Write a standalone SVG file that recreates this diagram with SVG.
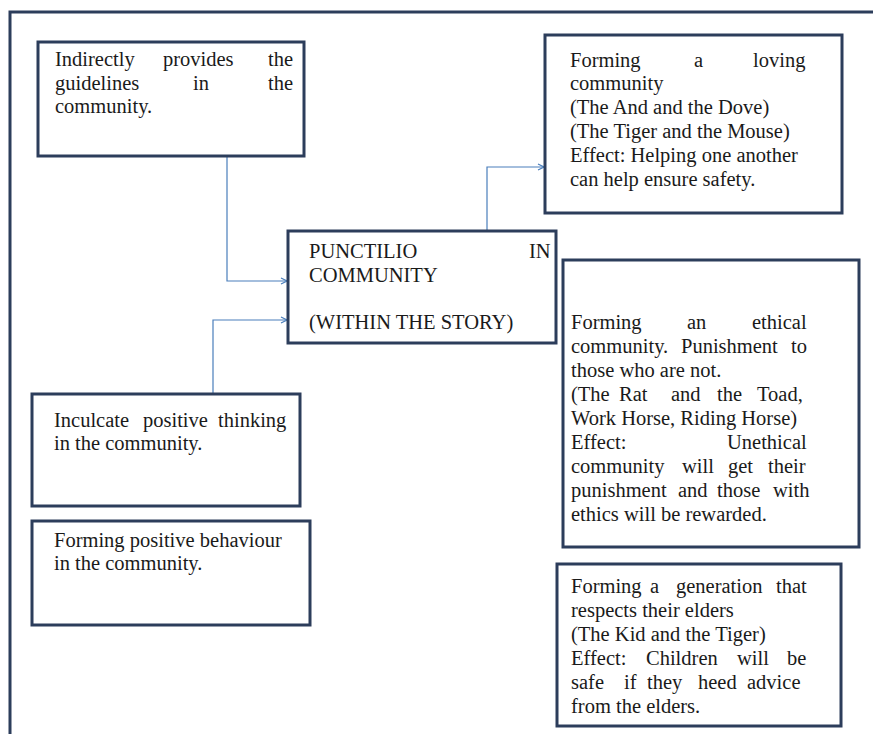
<svg xmlns="http://www.w3.org/2000/svg" width="873" height="734" viewBox="0 0 873 734">
<style>
.box{fill:#ffffff;stroke:#2c3d5b;stroke-width:3}
.frame{fill:none;stroke:#2c3d5b;stroke-width:3}
.t{font-family:"Liberation Serif","Times New Roman",serif;font-size:20.5px;fill:#1a1a1a}
.c{fill:none;stroke:#4a7ebb;stroke-width:1.2}
</style>
<defs>
<marker id="arr" markerWidth="8" markerHeight="8" refX="7" refY="4" orient="auto" markerUnits="userSpaceOnUse">
<path d="M1,1 L7,4 L1,7" fill="none" stroke="#4a7ebb" stroke-width="1.2"/>
</marker>
</defs>
<rect width="873" height="734" fill="#ffffff"/>
<rect class="frame" x="10" y="12" width="890" height="760"/>

<g id="connectors">
<path class="c" d="M227,157 V281 H287" marker-end="url(#arr)"/>
<path class="c" d="M213,394 V320 H287" marker-end="url(#arr)"/>
<path class="c" d="M487,231 V167 H544" marker-end="url(#arr)"/>
</g>

<g id="n_guidelines">
<rect class="box" x="38" y="42" width="266" height="114"/>
<text class="t" y="66"><tspan x="55">Indirectly</tspan><tspan x="163">provides</tspan><tspan x="268">the</tspan></text>
<text class="t" y="89.5"><tspan x="55">guidelines</tspan><tspan x="193">in</tspan><tspan x="268">the</tspan></text>
<text class="t" x="55" y="113">community.</text>
</g>

<g id="n_loving">
<rect class="box" x="545" y="35" width="297" height="178"/>
<text class="t" y="66.5"><tspan x="570">Forming</tspan><tspan x="694">a</tspan><tspan x="753">loving</tspan></text>
<text class="t" x="570" y="90">community</text>
<text class="t" x="570" y="114">(The And and the Dove)</text>
<text class="t" x="570" y="138">(The Tiger and the Mouse)</text>
<text class="t" x="570" y="162">Effect: Helping one another</text>
<text class="t" x="570" y="185.5">can help ensure safety.</text>
</g>

<g id="n_center">
<rect class="box" x="288" y="231" width="268" height="112"/>
<text class="t" y="258"><tspan x="309">PUNCTILIO</tspan><tspan x="529">IN</tspan></text>
<text class="t" x="309" y="281.5">COMMUNITY</text>
<text class="t" x="309" y="329">(WITHIN THE STORY)</text>
</g>

<g id="n_inculcate">
<rect class="box" x="32" y="394" width="268" height="112"/>
<text class="t" y="426.5"><tspan x="54">Inculcate</tspan><tspan x="143">positive</tspan><tspan x="218">thinking</tspan></text>
<text class="t" x="54" y="450">in the community.</text>
</g>

<g id="n_behaviour">
<rect class="box" x="32" y="521" width="278" height="104"/>
<text class="t" x="54" y="546.5">Forming positive behaviour</text>
<text class="t" x="54" y="570">in the community.</text>
</g>

<g id="n_ethical">
<rect class="box" x="563" y="260" width="296" height="287"/>
<text class="t" y="329"><tspan x="571">Forming</tspan><tspan x="687">an</tspan><tspan x="752">ethical</tspan></text>
<text class="t" y="353"><tspan x="571">community.</tspan><tspan x="681">Punishment</tspan><tspan x="791">to</tspan></text>
<text class="t" x="571" y="377">those who are not.</text>
<text class="t" y="401"><tspan x="571">(The</tspan><tspan x="619">Rat</tspan><tspan x="671">and</tspan><tspan x="717">the</tspan><tspan x="757">Toad,</tspan></text>
<text class="t" x="571" y="425">Work Horse, Riding Horse)</text>
<text class="t" y="449"><tspan x="571">Effect:</tspan><tspan x="727">Unethical</tspan></text>
<text class="t" y="473"><tspan x="571">community</tspan><tspan x="682">will</tspan><tspan x="728">get</tspan><tspan x="768">their</tspan></text>
<text class="t" y="497"><tspan x="571">punishment</tspan><tspan x="678">and</tspan><tspan x="717">those</tspan><tspan x="773">with</tspan></text>
<text class="t" x="571" y="521">ethics will be rewarded.</text>
</g>

<g id="n_elders">
<rect class="box" x="557" y="564" width="284" height="162"/>
<text class="t" y="593"><tspan x="571">Forming</tspan><tspan x="650">a</tspan><tspan x="676">generation</tspan><tspan x="776">that</tspan></text>
<text class="t" x="571" y="617">respects their elders</text>
<text class="t" x="571" y="641">(The Kid and the Tiger)</text>
<text class="t" y="665"><tspan x="571">Effect:</tspan><tspan x="646">Children</tspan><tspan x="737">will</tspan><tspan x="787">be</tspan></text>
<text class="t" y="689"><tspan x="571">safe</tspan><tspan x="624">if</tspan><tspan x="647">they</tspan><tspan x="698">heed</tspan><tspan x="747">advice</tspan></text>
<text class="t" x="571" y="713">from the elders.</text>
</g>
</svg>
